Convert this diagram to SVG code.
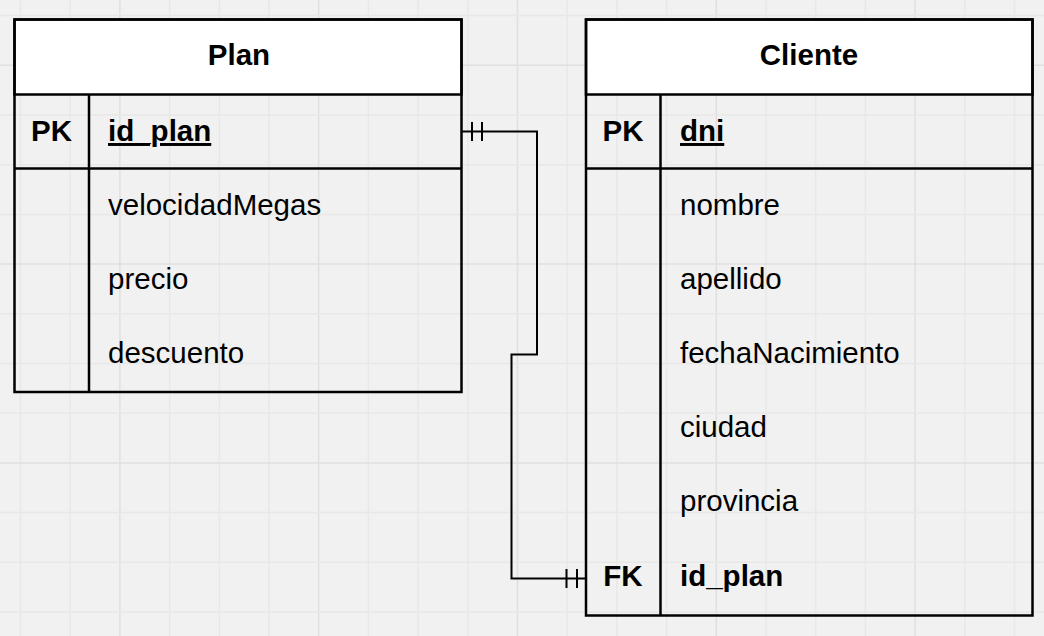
<svg xmlns="http://www.w3.org/2000/svg" width="1044" height="636" viewBox="0 0 1044 636">
<style>
.grid{stroke:#e8e8e8;stroke-width:1.5;fill:none}
.gridM{stroke:#e0e0e0;stroke-width:1.5;fill:none}
.box{fill:none;stroke:#000;stroke-width:2.5}
.head{fill:#fff;stroke:#000;stroke-width:2.5}
.ln{stroke:#000;stroke-width:2;fill:none}
.tl{stroke:#000;stroke-width:2.5;fill:none}
text{font-family:"Liberation Sans",Arial,Helvetica,sans-serif;font-size:29.5px;fill:#000}
.b{font-weight:bold}
.c{text-anchor:middle}
.u{text-decoration:underline}
</style>
<rect x="0" y="0" width="1044" height="636" fill="#f1f1f1"/>
<g id="grid">
<path class="grid" d="M20.5,0V636M70.2,0V636M169.6,0V636M219.3,0V636M269,0V636M368.4,0V636M418.1,0V636M467.8,0V636M567.2,0V636M616.9,0V636M666.6,0V636M766,0V636M815.7,0V636M865.4,0V636M964.8,0V636M1014.5,0V636"/>
<path class="gridM" d="M119.9,0V636M318.7,0V636M517.5,0V636M716.3,0V636M915.1,0V636"/>
<path class="grid" d="M0,15.6H1044M0,115H1044M0,164.7H1044M0,214.4H1044M0,313.8H1044M0,363.5H1044M0,413.2H1044M0,512.6H1044M0,562.3H1044M0,612H1044"/>
<path class="gridM" d="M0,65.3H1044M0,264.1H1044M0,462.9H1044"/>
</g>
<g id="connectors">
<path class="ln" d="M461.5,131.5H537V354.5H511.5V578.5H586"/>
<path class="ln" d="M472,122V141M482,122V141M566.5,569V588M577,569V588"/>
</g>
<g id="plan">
<rect class="head" x="14.5" y="19.5" width="447" height="75"/>
<rect class="box" x="14.5" y="19.5" width="447" height="372.5"/>
<path class="tl" d="M14.5,168.5H461.5M89,94.5V392"/>
<text class="b c" x="239" y="65">Plan</text>
<text class="b c" x="51.5" y="141">PK</text>
<text class="b u" x="108" y="141">id_plan</text>
<text x="108" y="215">velocidadMegas</text>
<text x="108" y="289">precio</text>
<text x="108" y="363">descuento</text>
</g>
<g id="cliente">
<rect class="head" x="586" y="19.5" width="446.5" height="75"/>
<rect class="box" x="586" y="19.5" width="446.5" height="596"/>
<path class="tl" d="M586,168.5H1032.5M660.5,94.5V615.5"/>
<text class="b c" x="809" y="65">Cliente</text>
<text class="b c" x="623" y="141">PK</text>
<text class="b u" x="680" y="141">dni</text>
<text x="680" y="215">nombre</text>
<text x="680" y="289">apellido</text>
<text x="680" y="363">fechaNacimiento</text>
<text x="680" y="437">ciudad</text>
<text x="680" y="511">provincia</text>
<text class="b c" x="623" y="586">FK</text>
<text class="b" x="680" y="586">id_plan</text>
</g>
</svg>
